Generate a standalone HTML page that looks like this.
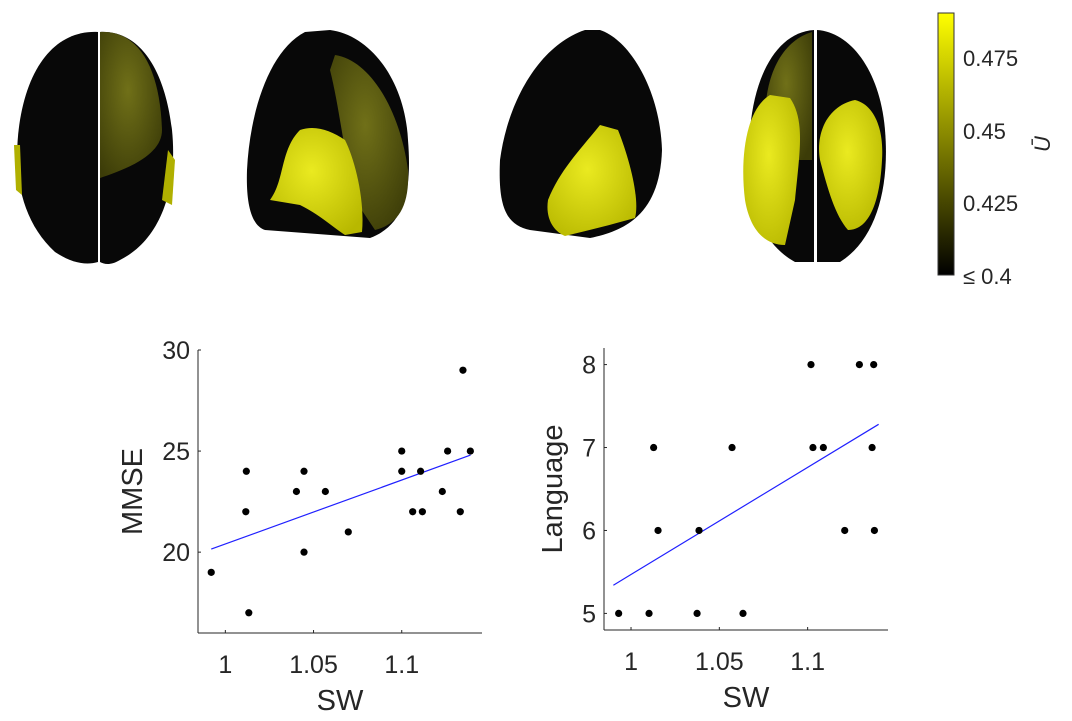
<!DOCTYPE html>
<html><head><meta charset="utf-8"><style>
body{margin:0;background:#fff;width:1072px;height:716px;overflow:hidden;font-family:"Liberation Sans",sans-serif}
svg text{font-family:"Liberation Sans",sans-serif;fill:#262626}
</style></head><body>
<svg width="1072" height="716">
<defs>
<linearGradient id="cb" x1="0" y1="1" x2="0" y2="0"><stop offset="0" stop-color="#000"/><stop offset="1" stop-color="#ffff00"/></linearGradient>
<radialGradient id="yl" cx="0.45" cy="0.4" r="0.7"><stop offset="0" stop-color="#eaea20"/><stop offset="1" stop-color="#b8b800"/></radialGradient>
<radialGradient id="ol" cx="0.45" cy="0.4" r="0.7"><stop offset="0" stop-color="#707018"/><stop offset="1" stop-color="#3c3c08"/></radialGradient>
</defs>
<g>
<path d="M98,32 C60,30 30,60 20,120 C12,170 20,220 55,252 C70,262 85,266 98,262 Z" fill="#080808"/>
<path d="M100,32 C140,30 165,70 172,130 C178,190 160,240 120,260 C110,266 104,264 100,262 Z" fill="#080808"/>
<path d="M100,32 C140,30 160,70 162,130 C162,150 140,165 100,178 Z" fill="url(#ol)"/>
<path d="M14,145 L20,145 L22,195 L16,190 Z" fill="#b0b000"/>
<path d="M168,150 L175,160 L172,205 L162,200 Z" fill="#b0b000"/>
</g>
<g>
<path d="M305,32 C270,50 250,110 247,170 C246,200 250,225 265,230 L370,238 C405,225 412,190 408,140 C405,80 370,35 330,30 Z" fill="#080808"/>
<path d="M335,55 C370,60 400,110 408,170 C410,210 395,225 375,230 L355,200 C345,160 340,110 330,70 Z" fill="url(#ol)"/>
<path d="M300,130 C280,150 285,180 270,200 L300,205 C320,215 330,225 345,235 L362,232 C365,200 355,160 345,140 C330,130 315,125 300,130 Z" fill="url(#yl)"/>
</g>
<g>
<path d="M585,30 C540,45 508,100 500,160 C498,205 505,225 530,230 L590,238 C630,230 660,210 662,150 C660,90 630,40 600,30 Z" fill="#080808"/>
<path d="M600,125 C580,150 560,170 548,200 C545,220 555,232 565,236 C590,230 610,225 635,218 C640,200 630,160 618,130 Z" fill="url(#yl)"/>
</g>
<g>
<path d="M814,30 C780,32 755,70 750,130 C745,190 755,240 795,262 L814,262 Z" fill="#080808"/>
<path d="M817,30 C850,32 880,70 885,130 C890,190 875,240 840,262 L817,262 Z" fill="#080808"/>
<path d="M812,32 C785,40 765,70 765,120 L790,160 L812,160 Z" fill="url(#ol)"/>
<path d="M770,95 C745,110 740,160 745,200 C750,230 765,245 785,245 L795,200 C800,150 805,120 790,98 Z" fill="url(#yl)"/>
<path d="M855,100 C830,105 815,130 820,160 C828,190 835,215 848,230 C870,230 880,200 882,160 C884,130 875,105 855,100 Z" fill="url(#yl)"/>
</g>
<g>
<rect x="938" y="13" width="16" height="262" fill="url(#cb)" stroke="#333" stroke-width="1"/>
<text x="963" y="66" font-size="22">0.475</text>
<text x="963" y="139" font-size="22">0.45</text>
<text x="963" y="211" font-size="22">0.425</text>
<text x="963" y="284" font-size="22">≤ 0.4</text>
<text transform="translate(1050,144) rotate(-90)" font-size="22" font-family="Liberation Serif" font-style="italic" text-anchor="middle">Ū</text>
</g>
<g id="p1"></g>
<g id="p2"></g>
</svg>
<script>
const mmseX=[0.992,1.0119,1.0116,1.0133,1.0403,1.0446,1.0446,1.0567,1.0697,1.100,1.100,1.1062,1.1107,1.1117,1.123,1.126,1.1332,1.1347,1.1389];
const mmseY=[19,24,22,17,23,24,20,23,21,25,24,22,24,22,23,25,22,29,25];
const mmseFit=[[0.992,20.15],[1.139,24.8]];
const mmseTicks=[20,25,30];
const langX=[0.993,1.0102,1.0374,1.0634,1.0128,1.0153,1.0385,1.0572,1.1019,1.103,1.1089,1.121,1.1293,1.1374,1.1365,1.1378];
const langY=[5,5,5,5,7,6,6,7,8,7,7,6,8,8,7,6];
const langFit=[[0.99,5.34],[1.1402,7.28]];
const langTicks=[5,6,7,8];
const xTicks=[1,1.05,1.1];
const xTickLabels=["1","1.05","1.1"];
const NS="http://www.w3.org/2000/svg";
function mk(g,t,a,txt){const e=document.createElementNS(NS,t);for(const k in a)e.setAttribute(k,a[k]);if(txt!==undefined)e.textContent=txt;g.appendChild(e);return e;}
function plot(id,L,R,T,B,x0,x1,y0,y1,xs,ys,fit,yt,ylab,yoff){
 const g=document.getElementById(id);
 const sx=v=>L+(v-x0)/(x1-x0)*(R-L), sy=v=>B-(v-y0)/(y1-y0)*(B-T);
 let e=mk(g,'line',{x1:L,y1:T,x2:L,y2:B,stroke:'#262626'});
 
 
 e=mk(g,'line',{x1:L,y1:B,x2:R,y2:B,stroke:'#262626'});
 
 
 xTicks.forEach((v,i)=>{mk(g,'line',{x1:sx(v),y1:B,x2:sx(v),y2:B-3,stroke:'#262626'});
  e=mk(g,'text',{x:sx(v),y:B+40,'font-size':25,'text-anchor':'middle'},xTickLabels[i]);
  
  });
 yt.forEach(v=>{mk(g,'line',{x1:L,y1:sy(v),x2:L+3,y2:sy(v),stroke:'#262626'});
  e=mk(g,'text',{x:L-8,y:sy(v)+9,'font-size':25,'text-anchor':'end'},String(v));
  
  });
 e=mk(g,'text',{x:(L+R)/2,y:B+77,'font-size':29,'text-anchor':'middle'},'SW');
 
 
 e=mk(g,'text',{transform:`translate(${L-yoff},${(T+B)/2}) rotate(-90)`,'font-size':29,'text-anchor':'middle'},ylab);
 
 
 e=mk(g,'line',{x1:sx(fit[0][0]),y1:sy(fit[0][1]),x2:sx(fit[1][0]),y2:sy(fit[1][1]),stroke:'#2020ff','stroke-width':1.2});
 
 
 xs.forEach((v,i)=>{e=mk(g,'circle',{cx:sx(v),cy:sy(ys[i]),r:3.6,fill:'#000'});
  
  });
}
plot('p1',198,482,350,633,0.9845,1.1455,16,30,mmseX,mmseY,mmseFit,mmseTicks,'MMSE',56);
plot('p2',604,888,348,630,0.9847,1.1455,4.8,8.2,langX,langY,langFit,langTicks,'Language',42);
</script>
</body></html>
